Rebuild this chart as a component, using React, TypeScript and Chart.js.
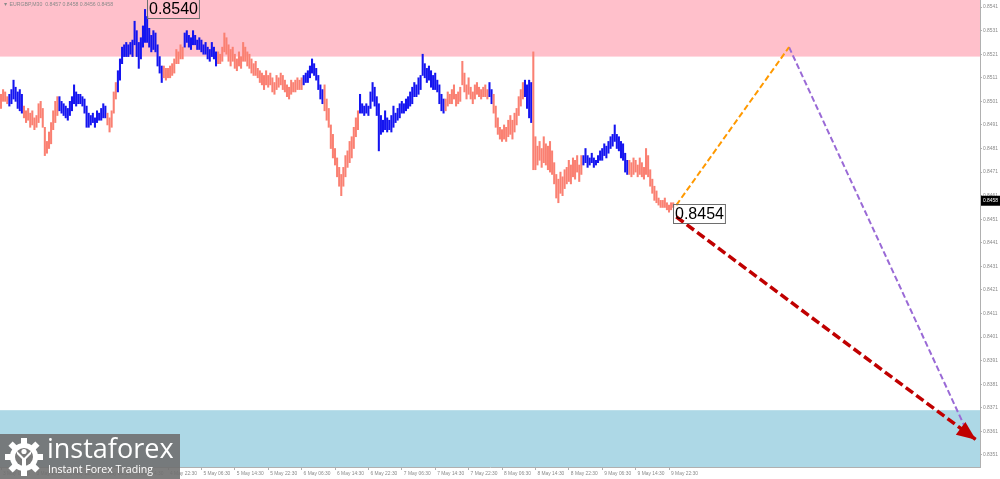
import React, { useEffect, useRef } from 'react';
import { Chart, registerables } from 'chart.js';

Chart.register(...registerables);

// EURGBP, M30 bars, prices in pips (x 0.0001)
const barHighs = [
  8504, 8506, 8505, 8503, 8504, 8506, 8510, 8507, 8505, 8506,
  8504, 8499, 8497, 8498, 8496, 8497, 8494, 8495, 8500, 8501,
  8498, 8490, 8484, 8488, 8492, 8497, 8501, 8503, 8503, 8501,
  8500, 8499, 8498, 8501, 8503, 8508, 8505, 8504, 8504, 8503,
  8502, 8499, 8496, 8495, 8496, 8494, 8497, 8496, 8498, 8500,
  8499, 8496, 8494, 8497, 8505, 8509, 8514, 8519, 8524, 8525,
  8526, 8525, 8526, 8527, 8535, 8531, 8526, 8528, 8533, 8540,
  8537, 8532, 8529, 8531, 8530, 8525, 8520, 8516, 8516, 8515,
  8515, 8516, 8517, 8519, 8523, 8522, 8525, 8524, 8530, 8531,
  8529, 8528, 8531, 8529, 8527, 8528, 8527, 8525, 8526, 8524,
  8523, 8526, 8524, 8522, 8522, 8521, 8524, 8530, 8528, 8525,
  8523, 8524, 8521, 8519, 8522, 8520, 8526, 8524, 8522, 8521,
  8519, 8517, 8518, 8515, 8514, 8513, 8512, 8514, 8512, 8513,
  8511, 8509, 8512, 8511, 8513, 8512, 8510, 8508, 8507, 8510,
  8509, 8510, 8511, 8510, 8511, 8512, 8513, 8514, 8516, 8519,
  8517, 8515, 8512, 8508, 8506, 8508, 8502, 8498, 8491, 8487,
  8481, 8477, 8473, 8470, 8473, 8478, 8480, 8484, 8486, 8490,
  8494, 8497, 8504, 8500, 8499, 8500, 8499, 8505, 8509, 8507,
  8503, 8500, 8495, 8493, 8497, 8494, 8493, 8495, 8499, 8496,
  8498, 8500, 8501, 8500, 8502, 8503, 8505, 8507, 8509, 8508,
  8511, 8512, 8521, 8517, 8515, 8516, 8514, 8512, 8513, 8510,
  8508, 8504, 8502, 8502, 8505, 8504, 8506, 8508, 8504, 8505,
  8507, 8518, 8513, 8508, 8511, 8507, 8505, 8508, 8509, 8507,
  8506, 8507, 8508, 8506, 8509, 8506, 8504, 8499, 8494, 8490,
  8489, 8491, 8490, 8493, 8495, 8493, 8496, 8498, 8503, 8506,
  8509, 8510, 8508, 8510, 8509, 8522, 8486, 8482, 8484, 8481,
  8486, 8483, 8482, 8484, 8480, 8475, 8470, 8468, 8471, 8469,
  8472, 8473, 8476, 8474, 8477, 8476, 8478, 8474, 8478, 8478,
  8481, 8478, 8477, 8479, 8477, 8476, 8478, 8480, 8481, 8483,
  8482, 8484, 8486, 8487, 8491, 8487, 8486, 8484, 8483, 8479,
  8476, 8476, 8475, 8477, 8476, 8474, 8477, 8475, 8473, 8481,
  8478, 8472, 8468, 8465, 8463, 8460, 8459, 8459, 8460, 8458,
  8457, 8458, 8458,
];
const barLows = [
  8498, 8501, 8501, 8500, 8499, 8500, 8502, 8501, 8498, 8497,
  8496, 8494, 8492, 8493, 8490, 8491, 8489, 8490, 8492, 8494,
  8490, 8478, 8479, 8481, 8483, 8489, 8492, 8495, 8497, 8496,
  8495, 8494, 8493, 8495, 8497, 8500, 8499, 8500, 8500, 8499,
  8496, 8490, 8490, 8491, 8492, 8490, 8492, 8493, 8493, 8494,
  8494, 8491, 8488, 8490, 8496, 8502, 8505, 8510, 8517, 8520,
  8520, 8520, 8521, 8520, 8525, 8520, 8515, 8519, 8524, 8526,
  8526, 8524, 8522, 8523, 8522, 8516, 8513, 8509, 8511, 8510,
  8511, 8511, 8512, 8513, 8517, 8517, 8519, 8519, 8524, 8526,
  8524, 8523, 8525, 8525, 8523, 8523, 8522, 8521, 8521, 8519,
  8518, 8520, 8519, 8516, 8517, 8517, 8518, 8522, 8521, 8518,
  8516, 8518, 8515, 8514, 8516, 8515, 8518, 8518, 8516, 8515,
  8513, 8512, 8512, 8511, 8509, 8508, 8506, 8508, 8507, 8508,
  8505, 8504, 8506, 8507, 8508, 8506, 8505, 8503, 8502, 8504,
  8505, 8505, 8506, 8506, 8506, 8508, 8509, 8509, 8511, 8513,
  8512, 8510, 8506, 8502, 8500, 8497, 8493, 8490, 8481, 8477,
  8474, 8469, 8465, 8461, 8465, 8469, 8473, 8475, 8477, 8481,
  8486, 8489, 8496, 8496, 8495, 8496, 8495, 8498, 8501, 8499,
  8495, 8480, 8487, 8488, 8489, 8488, 8489, 8488, 8490, 8492,
  8493, 8494, 8496, 8496, 8497, 8498, 8499, 8500, 8503, 8503,
  8504, 8506, 8512, 8511, 8509, 8510, 8507, 8506, 8506, 8505,
  8500, 8497, 8496, 8497, 8499, 8500, 8500, 8502, 8499, 8500,
  8501, 8508, 8505, 8502, 8504, 8502, 8500, 8502, 8504, 8503,
  8502, 8503, 8503, 8502, 8503, 8500, 8496, 8490, 8487, 8485,
  8484, 8485, 8484, 8486, 8487, 8485, 8488, 8491, 8495, 8499,
  8502, 8503, 8498, 8494, 8492, 8472, 8472, 8474, 8476, 8473,
  8475, 8474, 8472, 8471, 8470, 8466, 8460, 8458, 8462, 8461,
  8464, 8466, 8467, 8466, 8469, 8468, 8471, 8467, 8470, 8474,
  8475, 8473, 8474, 8475, 8473, 8474, 8475, 8476, 8476, 8478,
  8477, 8479, 8481, 8482, 8484, 8481, 8480, 8477, 8476, 8471,
  8470, 8470, 8469, 8470, 8471, 8469, 8470, 8469, 8468, 8470,
  8469, 8465, 8462, 8459, 8458, 8457, 8456, 8456, 8456, 8455,
  8454, 8455, 8456,
];
// first bar of each wave; colours alternate, starting with a falling wave
const waveStarts = [0, 4, 11, 28, 51, 56, 78, 88, 104, 145, 155, 172, 213, 234, 236, 251, 255, 279, 301];

const timeLabels = [
  '3 May 06:30', '3 May 14:30', '3 May 22:30', '4 May 06:30', '4 May 14:30', '4 May 22:30',
  '5 May 06:30', '5 May 14:30', '5 May 22:30', '6 May 06:30', '6 May 14:30', '6 May 22:30',
  '7 May 06:30', '7 May 14:30', '7 May 22:30', '8 May 06:30', '8 May 14:30', '8 May 22:30',
  '9 May 06:30', '9 May 14:30', '9 May 22:30',
];
const barsPerLabel = 16;
const priceTicks = [
  0.8541, 0.8531, 0.8521, 0.8511, 0.8501, 0.8491, 0.8481, 0.8471, 0.8461, 0.8451,
  0.8441, 0.8431, 0.8421, 0.8411, 0.8401, 0.8391, 0.8381, 0.8371, 0.8361, 0.8351,
];

const resistanceZone = [0.8520, 0.8545];
const supportZone = [0.8340, 0.8370];

const markBars = [69, 322];
const markPrices = [0.854, 0.8454];

const upBars = [323.5, 377.5];
const upPrices = [0.8457, 0.8524];
const altBars = [377.5, 462.7];
const altPrices = [0.8524, 0.8361];
const mainBars = [323.5, 467];
const mainPrices = [0.8452, 0.83575];

const lastPrice = 0.8458;

const UP = '#1414f0';
const DOWN = '#fa8072';

function waveColor(i: number) {
  let k = 0;
  for (let j = 0; j < waveStarts.length; j++) if (waveStarts[j] <= i) k = j;
  return k % 2 === 0 ? DOWN : UP;
}

const pts = (bs: number[], ps: number[]) => bs.map((b, i) => ({ x: b, y: ps[i] }));

const overlay = {
  id: 'overlay',
  beforeDatasetsDraw(chart: any) {
    const { ctx, chartArea: a, scales } = chart;
    const y = scales.y;
    ctx.save();
    const band = (z: number[], color: string) => {
      const t = Math.max(a.top, y.getPixelForValue(z[1]));
      const b = Math.min(a.bottom, y.getPixelForValue(z[0]));
      ctx.fillStyle = color;
      ctx.fillRect(a.left, t, a.right - a.left, b - t);
    };
    band(resistanceZone, '#ffc0cb');
    band(supportZone, '#add8e6');
    ctx.restore();
  },
  afterDatasetsDraw(chart: any) {
    const { ctx, scales } = chart;
    ctx.save();
    // arrow head of the main forecast
    const pts = chart.getDatasetMeta(3).data;
    const p0 = pts[0], p1 = pts[pts.length - 1];
    const ang = Math.atan2(p1.y - p0.y, p1.x - p0.x);
    const len = 19, half = 8;
    ctx.fillStyle = '#c00000';
    ctx.beginPath();
    ctx.moveTo(p1.x, p1.y);
    ctx.lineTo(p1.x - len * Math.cos(ang) + half * Math.sin(ang), p1.y - len * Math.sin(ang) - half * Math.cos(ang));
    ctx.lineTo(p1.x - len * Math.cos(ang) - half * Math.sin(ang), p1.y - len * Math.sin(ang) + half * Math.cos(ang));
    ctx.closePath();
    ctx.fill();

    // price marks
    ctx.font = '16px "Liberation Sans", Arial, sans-serif';
    ctx.textBaseline = 'top';
    markBars.forEach((b, i) => {
      const txt = markPrices[i].toFixed(4);
      const w = ctx.measureText(txt).width;
      const x0 = Math.round(scales.x.getPixelForValue(b)) + (i === 0 ? 2 : 0) + 0.5;
      const y0 = Math.round(scales.y.getPixelForValue(markPrices[i])) - (i === 0 ? 10 : 8) + 0.5;
      ctx.strokeStyle = '#6e6e6e';
      ctx.lineWidth = 1;
      ctx.strokeRect(x0, y0, w + 3, 19);
      ctx.fillStyle = '#000';
      ctx.fillText(txt, x0 + 1.5, y0 + 2);
    });
    ctx.restore();
  },
  afterDraw(chart: any) {
    const { ctx, chartArea: a, scales } = chart;
    const py = scales.y.getPixelForValue(lastPrice);
    ctx.save();
    ctx.fillStyle = '#000';
    ctx.fillRect(a.right + 1, py - 7, 19, 10);
    ctx.fillStyle = '#fff';
    ctx.font = '4.9px "Liberation Sans", Arial, sans-serif';
    ctx.textBaseline = 'middle';
    ctx.fillText(lastPrice.toFixed(4), a.right + 3, py - 2);
    ctx.restore();
  },
};

function Gear() {
  const teeth = [0, 45, 90, 135, 180, 225, 270, 315];
  return (
    <svg width={40} height={42} viewBox="0 0 40 42" style={{ position: 'absolute', left: 4, top: 2 }}>
      {teeth.map((r) => (
        <rect key={r} x={17} y={2} width={6} height={8} fill="#fff" transform={`rotate(${r} 20 21)`} />
      ))}
      <circle cx={20} cy={21} r={14} fill="#fff" />
      <circle cx={20} cy={21} r={9} fill="#7a7a7a" />
      <circle cx={20} cy={15.5} r={2.6} fill="#fff" />
      <path d="M13 15 L20 22 L27 15 L27 18 L22 23 L22 31 L18 31 L18 23 L13 18 Z" fill="#fff" />
    </svg>
  );
}

export default function App() {
  const canvasRef = useRef<HTMLCanvasElement>(null);

  useEffect(() => {
    if (!canvasRef.current) return;
    const bars = barHighs.map((h, i) => ({ x: i, y: [barLows[i] / 10000, h / 10000] }));
    const tickFont = { family: '"Liberation Sans", Arial, sans-serif', size: 4.9 };

    const chart = new Chart(canvasRef.current, {
      type: 'bar',
      data: {
        datasets: [
          {
            type: 'bar',
            data: bars as any,
            backgroundColor: bars.map((_, i) => waveColor(i)),
            barThickness: 1.4,
            order: 2,
          } as any,
          {
            type: 'line',
            data: pts(upBars, upPrices),
            borderColor: '#ff9900',
            borderWidth: 2,
            borderDash: [6, 3],
            pointRadius: 0,
            order: 1,
          },
          {
            type: 'line',
            data: pts(altBars, altPrices),
            borderColor: '#9a6ad6',
            borderWidth: 2,
            borderDash: [6, 3],
            pointRadius: 0,
            order: 1,
          },
          {
            type: 'line',
            data: pts(mainBars, mainPrices),
            borderColor: '#c00000',
            borderWidth: 3.5,
            borderDash: [9, 4],
            pointRadius: 0,
            order: 1,
          },
        ],
      },
      options: {
        responsive: false,
        animation: false,
        layout: { padding: 0 },
        plugins: { legend: { display: false }, tooltip: { enabled: false } },
        scales: {
          x: {
            type: 'linear',
            min: -0.48,
            max: 468.98,
            offset: false,
            grid: { display: true, drawOnChartArea: false, offset: false, tickLength: 3, color: '#b0b0b0' },
            border: { display: true, color: '#b0b0b0' },
            afterBuildTicks: (axis: any) => {
              axis.ticks = timeLabels.map((_, i) => ({ value: i * barsPerLabel }));
            },
            afterFit: (s: any) => {
              s.height = 12;
              s.paddingLeft = 0;
              s.paddingRight = 0;
            },
            ticks: {
              autoSkip: false,
              maxRotation: 0,
              align: 'start',
              labelOffset: 2,
              padding: 1,
              color: '#8a8a8a',
              font: tickFont,
              callback: (_v: any, i: number) => timeLabels[i],
            },
          },
          y: {
            type: 'linear',
            position: 'right',
            min: 0.83459,
            max: 0.8544,
            beginAtZero: false,
            grid: { display: true, drawOnChartArea: false, tickLength: 2, color: '#b0b0b0' },
            border: { display: true, color: '#b0b0b0' },
            afterBuildTicks: (axis: any) => {
              axis.ticks = priceTicks.map((v) => ({ value: v }));
            },
            afterFit: (s: any) => {
              s.width = 20;
              s.paddingTop = 0;
              s.paddingBottom = 0;
            },
            ticks: {
              padding: 1,
              color: '#8a8a8a',
              font: tickFont,
              callback: (v: any) => Number(v).toFixed(4),
            },
          },
        },
      },
      plugins: [overlay],
    });

    return () => chart.destroy();
  }, []);

  return (
    <div style={{ position: 'absolute', left: 0, top: 0, width: 1000, height: 479, background: '#fff', overflow: 'hidden' }}>
      <canvas ref={canvasRef} width={1000} height={479} style={{ display: 'block' }} />
      <div
        style={{
          position: 'absolute', left: 3, top: 1, fontFamily: '"Liberation Sans", Arial, sans-serif',
          fontSize: 5.2, color: '#8a8a8a', whiteSpace: 'nowrap',
        }}
      >
        ▼ EURGBP,M30&nbsp;&nbsp;0.8457 0.8458 0.8456 0.8458
      </div>
      <div
        style={{
          position: 'absolute', left: 0, top: 434, width: 180, height: 45,
          background: 'rgba(112,112,112,0.9)', color: '#fff', fontFamily: '"Open Sans", sans-serif',
        }}
      >
        <Gear />
        <div style={{ position: 'absolute', left: 47, top: -2, fontSize: 27, lineHeight: '32px' }}>instaforex</div>
        <div style={{ position: 'absolute', left: 48, top: 29, fontSize: 10.6, lineHeight: '13px' }}>Instant Forex Trading</div>
      </div>
    </div>
  );
}
